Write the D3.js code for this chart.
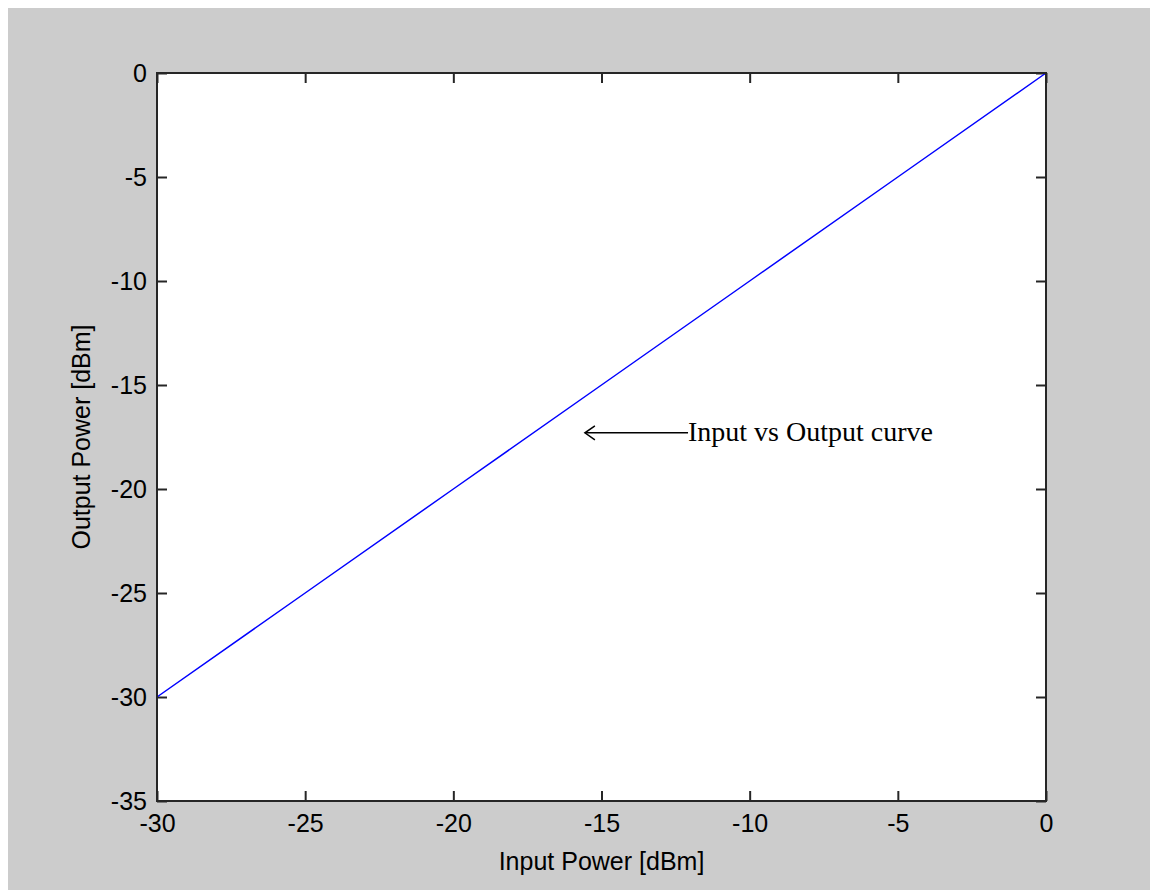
<!DOCTYPE html>
<html>
<head>
<meta charset="utf-8">
<script src="https://cdn.jsdelivr.net/npm/d3@7"></script>
<style>
  body { margin: 0; background: #ffffff; }
  #chart text { font-family: "Liberation Sans", Arial, sans-serif; }
</style>
</head>
<body>
<div id="chart"></div>
<script>
// data
var inputPower = [-30, -25, -20, -15, -10, -5, 0];
var outputPower = [-30, -25, -20, -15, -10, -5, 0];
var xTicks = [-30, -25, -20, -15, -10, -5, 0];
var yTicks = [-35, -30, -25, -20, -15, -10, -5, 0];
var annotation = { text: "Input vs Output curve", x: -12.08, y: -17.3, arrowTo: -15.56 };

var W = 1150, H = 890;
var margin = { top: 73, right: 104, bottom: 89, left: 157 };
var w = W - margin.left - margin.right,
    h = H - margin.top - margin.bottom;

// plain hyphen minus, like the original
var fmt = function (d) { return String(d); };

var svg = d3.select("#chart").append("svg")
  .attr("width", W).attr("height", H);

// figure background
svg.append("rect").attr("x", 8).attr("y", 8)
  .attr("width", W - 8).attr("height", H - 8).attr("fill", "#cccccc");

var g = svg.append("g").attr("transform", "translate(" + margin.left + "," + margin.top + ")");

var x = d3.scaleLinear().domain([-30, 0]).range([0, w]);
var y = d3.scaleLinear().domain([-35, 0]).range([h, 0]);

g.append("rect").attr("width", w).attr("height", h).attr("fill", "#ffffff");

// axes with inward ticks
function styleAxis(sel) {
  sel.select(".domain").remove();
  sel.selectAll(".tick line").attr("stroke", "#262626").attr("stroke-width", 2);
  sel.selectAll("text").attr("fill", "#000").style("font-size", "25px");
}

g.append("g").attr("transform", "translate(0," + h + ")")
  .call(d3.axisBottom(x).tickValues(xTicks).tickFormat(fmt).tickSize(-10).tickSizeOuter(0).tickPadding(13))
  .call(styleAxis);
g.append("g")
  .call(d3.axisTop(x).tickValues(xTicks).tickSize(-10).tickSizeOuter(0).tickFormat(""))
  .call(styleAxis);
g.append("g")
  .call(d3.axisLeft(y).tickValues(yTicks).tickFormat(fmt).tickSize(-10).tickSizeOuter(0).tickPadding(10))
  .call(styleAxis);
g.append("g").attr("transform", "translate(" + w + ",0)")
  .call(d3.axisRight(y).tickValues(yTicks).tickSize(-10).tickSizeOuter(0).tickFormat(""))
  .call(styleAxis);

// the curve
var line = d3.line()
  .x(function (d, i) { return x(inputPower[i]); })
  .y(function (d) { return y(d); });

g.append("path").datum(outputPower)
  .attr("d", line)
  .attr("fill", "none")
  .attr("stroke", "#0000ff")
  .attr("stroke-width", 1.5);

// box
g.append("rect").attr("width", w).attr("height", h)
  .attr("fill", "none").attr("stroke", "#262626").attr("stroke-width", 2);

// annotation arrow
var ax0 = x(annotation.x), ax1 = x(annotation.arrowTo), ay = y(annotation.y);
g.append("line").attr("x1", ax0).attr("x2", ax1).attr("y1", ay).attr("y2", ay)
  .attr("stroke", "#000").attr("stroke-width", 1.5);
g.append("path")
  .attr("d", "M" + (ax1 + 10) + "," + (ay - 7) + "L" + ax1 + "," + ay + "L" + (ax1 + 10) + "," + (ay + 7))
  .attr("fill", "none").attr("stroke", "#000").attr("stroke-width", 1.5);
g.append("text")
  .attr("x", ax0).attr("y", ay + 8)
  .style("font-family", "'Liberation Serif', 'Times New Roman', serif")
  .style("font-size", "28px")
  .attr("fill", "#000")
  .text(annotation.text);

// axis labels
g.append("text")
  .attr("x", w / 2).attr("y", h + 69)
  .attr("text-anchor", "middle")
  .style("font-size", "25px")
  .text("Input Power [dBm]");
g.append("text")
  .attr("transform", "translate(-67," + (h / 2) + ") rotate(-90)")
  .attr("text-anchor", "middle")
  .style("font-size", "25px")
  .text("Output Power [dBm]");
</script>
</body>
</html>
